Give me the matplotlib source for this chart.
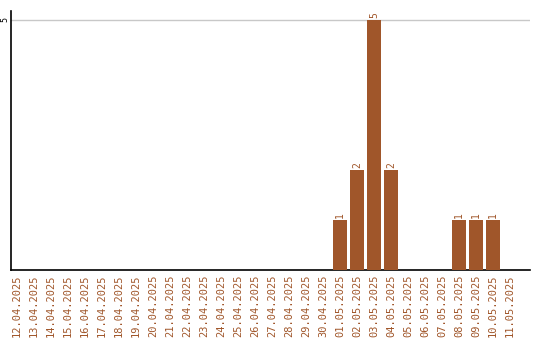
import matplotlib
matplotlib.use("Agg")
import matplotlib.pyplot as plt

dates = ["12.04.2025", "13.04.2025", "14.04.2025", "15.04.2025", "16.04.2025",
         "17.04.2025", "18.04.2025", "19.04.2025", "20.04.2025", "21.04.2025",
         "22.04.2025", "23.04.2025", "24.04.2025", "25.04.2025", "26.04.2025",
         "27.04.2025", "28.04.2025", "29.04.2025", "30.04.2025", "01.05.2025",
         "02.05.2025", "03.05.2025", "04.05.2025", "05.05.2025", "06.05.2025",
         "07.05.2025", "08.05.2025", "09.05.2025", "10.05.2025", "11.05.2025"]
counts = [0, 0, 0, 0, 0, 0, 0, 0, 0, 0, 0, 0, 0, 0, 0,
          0, 0, 0, 0, 1, 2, 5, 2, 0, 0, 0, 1, 1, 1, 0]

color = '#A0562A'

fig = plt.figure(figsize=(5.4, 3.4), dpi=100)
ax = fig.add_axes([11 / 540, 1 - 270 / 340, 519 / 540, 259 / 340])

x = list(range(len(dates)))
ax.bar(x, counts, width=14 / 17, color=color, zorder=3)
for xi, c in zip(x, counts):
    if c > 0:
        ax.text(xi, c + 0.04, str(c), rotation=90, ha='center', va='bottom',
                color=color, fontsize=7, family='DejaVu Sans Mono')

ax.set_xlim(-6 / 17, 29 + 20 / 17)
ax.set_ylim(0, 5.18)
ax.set_yticks([5])
ax.set_yticklabels(['5'], rotation=90, va='center', fontsize=6, family='DejaVu Sans Mono')
ax.tick_params(axis='y', length=0, pad=1)
ax.yaxis.grid(True, color='#c8c8c8', linewidth=1, zorder=0)
ax.set_xticks(x)
ax.set_xticklabels(dates, rotation=90, fontsize=7.5, color=color, family='DejaVu Sans Mono')
ax.tick_params(axis='x', length=0, pad=3)
ax.spines['top'].set_visible(False)
ax.spines['right'].set_visible(False)
ax.spines['left'].set_linewidth(1.2)
ax.spines['bottom'].set_linewidth(1.2)

fig.savefig('out.png', dpi=100)
